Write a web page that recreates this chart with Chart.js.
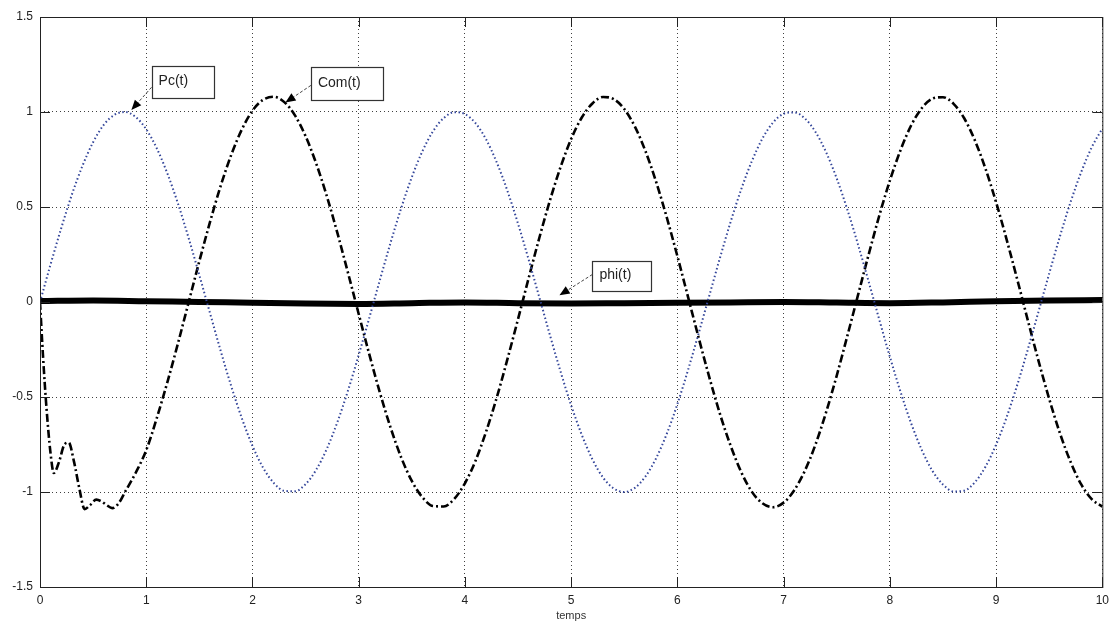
<!DOCTYPE html>
<html>
<head>
<meta charset="utf-8">
<script src="https://cdn.jsdelivr.net/npm/chart.js@4"></script>
<style>
  html, body { margin: 0; padding: 0; background: #fff; }
  #wrap { width: 1115px; height: 623px; }
</style>
</head>
<body>
<div id="wrap"><canvas id="grafico" width="1115" height="623"></canvas></div>
<script>
// Tiempo (s) para Pc(t)
const temps = [0,0.1,0.2,0.3,0.4,0.5,0.6,0.7,0.8,0.9,1,1.1,1.2,1.3,1.4,1.5,1.6,1.7,1.8,1.9,
  2,2.1,2.2,2.3,2.4,2.5,2.6,2.7,2.8,2.9,3,3.1,3.2,3.3,3.4,3.5,3.6,3.7,3.8,3.9,
  4,4.1,4.2,4.3,4.4,4.5,4.6,4.7,4.8,4.9,5,5.1,5.2,5.3,5.4,5.5,5.6,5.7,5.8,5.9,
  6,6.1,6.2,6.3,6.4,6.5,6.6,6.7,6.8,6.9,7,7.1,7.2,7.3,7.4,7.5,7.6,7.7,7.8,7.9,
  8,8.1,8.2,8.3,8.4,8.5,8.6,8.7,8.8,8.9,9,9.1,9.2,9.3,9.4,9.5,9.6,9.7,9.8,9.9,10];

// Pc(t) - courbe pointillée bleue
const pcValeurs = [0,0.199,0.389,0.565,0.717,0.841,0.932,0.985,1.000,0.974,
  0.909,0.808,0.675,0.516,0.335,0.141,-0.058,-0.256,-0.443,-0.612,
  -0.757,-0.872,-0.952,-0.994,-0.996,-0.959,-0.883,-0.773,-0.631,-0.465,
  -0.279,-0.083,0.117,0.312,0.494,0.657,0.794,0.899,0.968,0.999,
  0.989,0.941,0.855,0.734,0.585,0.412,0.223,0.025,-0.174,-0.366,
  -0.544,-0.699,-0.828,-0.924,-0.981,-1.000,-0.978,-0.918,-0.822,-0.694,
  -0.537,-0.358,-0.165,0.033,0.231,0.420,0.592,0.740,0.860,0.944,
  0.991,0.998,0.966,0.895,0.788,0.650,0.486,0.303,0.108,-0.092,
  -0.288,-0.472,-0.638,-0.778,-0.888,-0.961,-0.997,-0.993,-0.949,-0.867,
  -0.751,-0.605,-0.435,-0.247,-0.049,0.150,0.344,0.524,0.682,0.814,0.913];

// Com(t) - trait mixte noir (transitoire au début)
const comTemps = [0,0.03,0.06,0.1,0.13,0.18,0.23,0.27,0.32,0.37,0.42,0.47,0.53,0.58,0.63,0.68,0.74,0.8,0.9,1,
  1.1,1.2,1.3,1.4,1.5,1.6,1.7,1.8,1.9,
  2,2.1,2.2,2.3,2.4,2.5,2.6,2.7,2.8,2.9,3,3.1,3.2,3.3,3.4,3.5,3.6,3.7,3.8,3.9,
  4,4.1,4.2,4.3,4.4,4.5,4.6,4.7,4.8,4.9,5,5.1,5.2,5.3,5.4,5.5,5.6,5.7,5.8,5.9,
  6,6.1,6.2,6.3,6.4,6.5,6.6,6.7,6.8,6.9,7,7.1,7.2,7.3,7.4,7.5,7.6,7.7,7.8,7.9,
  8,8.1,8.2,8.3,8.4,8.5,8.6,8.7,8.8,8.9,9,9.1,9.2,9.3,9.4,9.5,9.6,9.7,9.8,9.9,10];
const comValeurs = [0,-0.3,-0.55,-0.8,-0.9,-0.84,-0.75,-0.74,-0.84,-0.98,-1.09,-1.07,-1.04,-1.05,-1.07,-1.085,-1.06,-1.0,-0.9,-0.78,
  -0.610,-0.420,-0.215,0,0.215,0.420,0.610,0.774,0.908,
  1.007,1.064,1.080,1.052,0.982,0.873,0.729,0.557,0.362,0.152,
  -0.063,-0.276,-0.478,-0.661,-0.818,-0.942,-1.028,-1.074,-1.076,-1.036,
  -0.954,-0.835,-0.681,-0.502,-0.301,-0.090,0.126,0.337,0.534,0.710,
  0.858,0.971,1.045,1.079,1.068,1.016,0.923,0.793,0.632,0.445,
  0.241,0.027,-0.188,-0.395,-0.588,-0.755,-0.894,-0.998,-1.059,-1.080,
  -1.056,-0.991,-0.888,-0.750,-0.580,-0.387,-0.178,0.036,0.249,0.454,
  0.639,0.799,0.929,1.020,1.070,1.078,1.043,0.967,0.851,0.702,
  0.525,0.327,0.117,-0.099,-0.311,-0.510,-0.689,-0.840,-0.959,-1.038,-1.077];

// phi(t) - trait plein épais
const phiTemps = [0,0.5,1,1.5,2,2.5,3,3.5,4,4.5,5,5.5,6,6.5,7,7.5,8,8.5,9,9.5,10];
const phiValeurs = [0.005,0.008,0.004,0,-0.004,-0.008,-0.01,-0.006,-0.002,-0.006,-0.008,-0.006,-0.004,-0.002,0,-0.003,-0.006,-0.002,0.004,0.008,0.01];

// Ticks
const xTicks = [0,1,2,3,4,5,6,7,8,9,10];
const yTicks = [-1.5,-1,-0.5,0,0.5,1,1.5];

// Étiquettes (boîte de texte + flèche)
const etiquettes = [
  { texte: 'Pc(t)', boite: [1.05, 1.24, 1.63, 1.07], depuis: [1.05, 1.13], vers: [0.86, 1.01] },
  { texte: 'Com(t)', boite: [2.55, 1.235, 3.23, 1.06], depuis: [2.55, 1.14], vers: [2.31, 1.05] },
  { texte: 'phi(t)', boite: [5.2, 0.215, 5.76, 0.055], depuis: [5.2, 0.145], vers: [4.89, 0.035] }
];

function points(xs, ys) {
  return xs.map((x, i) => ({ x: x, y: ys[i] }));
}

// Cadre + ticks vers l'intérieur + étiquettes
const cadrePlugin = {
  id: 'cadre',
  afterDatasetsDraw(chart) {
    const ctx = chart.ctx;
    const a = chart.chartArea;
    const sx = chart.scales.x, sy = chart.scales.y;
    ctx.save();
    ctx.strokeStyle = '#222';
    ctx.lineWidth = 1;
    ctx.setLineDash([]);
    ctx.strokeRect(a.left + 0.5, a.top + 0.5, a.right - a.left, a.bottom - a.top);
    ctx.beginPath();
    xTicks.forEach(v => {
      const px = Math.round(sx.getPixelForValue(v)) + 0.5;
      ctx.moveTo(px, a.bottom); ctx.lineTo(px, a.bottom - 10);
      ctx.moveTo(px, a.top); ctx.lineTo(px, a.top + 10);
    });
    yTicks.forEach(v => {
      const py = Math.round(sy.getPixelForValue(v)) + 0.5;
      ctx.moveTo(a.left, py); ctx.lineTo(a.left + 10, py);
      ctx.moveTo(a.right, py); ctx.lineTo(a.right - 10, py);
    });
    ctx.stroke();

    etiquettes.forEach(e => {
      const x1 = sx.getPixelForValue(e.boite[0]), y1 = sy.getPixelForValue(e.boite[1]);
      const x2 = sx.getPixelForValue(e.boite[2]), y2 = sy.getPixelForValue(e.boite[3]);
      ctx.fillStyle = '#fff';
      ctx.fillRect(x1, y1, x2 - x1, y2 - y1);
      ctx.strokeStyle = '#333';
      ctx.lineWidth = 1.2;
      ctx.strokeRect(Math.round(x1) + 0.5, Math.round(y1) + 0.5, Math.round(x2 - x1), Math.round(y2 - y1));
      ctx.fillStyle = '#222';
      ctx.font = '14px "Liberation Sans", Arial, sans-serif';
      ctx.textBaseline = 'middle';
      ctx.textAlign = 'left';
      ctx.fillText(e.texte, x1 + 7, (y1 + y2) / 2 - 1);

      // flèche
      const fx = sx.getPixelForValue(e.depuis[0]), fy = sy.getPixelForValue(e.depuis[1]);
      const tx = sx.getPixelForValue(e.vers[0]), ty = sy.getPixelForValue(e.vers[1]);
      const ang = Math.atan2(ty - fy, tx - fx);
      ctx.strokeStyle = '#444';
      ctx.lineWidth = 1;
      ctx.setLineDash([3, 2]);
      ctx.beginPath();
      ctx.moveTo(fx, fy);
      ctx.lineTo(tx - 8 * Math.cos(ang), ty - 8 * Math.sin(ang));
      ctx.stroke();
      ctx.setLineDash([]);
      ctx.fillStyle = '#000';
      ctx.beginPath();
      ctx.moveTo(tx, ty);
      ctx.lineTo(tx - 11 * Math.cos(ang - 0.4), ty - 11 * Math.sin(ang - 0.4));
      ctx.lineTo(tx - 11 * Math.cos(ang + 0.4), ty - 11 * Math.sin(ang + 0.4));
      ctx.closePath();
      ctx.fill();
    });
    ctx.restore();
  }
};

const ctx = document.getElementById('grafico').getContext('2d');
const miGrafico = new Chart(ctx, {
  type: 'line',
  data: {
    datasets: [
      {
        label: 'Pc(t)',
        data: points(temps, pcValeurs),
        borderColor: '#34469a',
        borderWidth: 2,
        borderDash: [1.5, 2.5],
        pointRadius: 0,
        fill: false,
        cubicInterpolationMode: 'monotone'
      },
      {
        label: 'Com(t)',
        data: points(comTemps, comValeurs),
        borderColor: '#000',
        borderWidth: 2.6,
        borderDash: [8, 3, 2, 3],
        pointRadius: 0,
        fill: false,
        cubicInterpolationMode: 'monotone'
      },
      {
        label: 'phi(t)',
        data: points(phiTemps, phiValeurs),
        borderColor: '#000',
        borderWidth: 6,
        pointRadius: 0,
        fill: false,
        cubicInterpolationMode: 'monotone'
      }
    ]
  },
  options: {
    responsive: false,
    animation: false,
    events: [],
    layout: { padding: { top: 17, right: 12, left: 0, bottom: 0 } },
    plugins: {
      legend: { display: false },
      tooltip: { enabled: false }
    },
    scales: {
      x: {
        type: 'linear',
        min: 0,
        max: 10,
        afterFit: s => { s.height = 36; },
        afterBuildTicks: s => { s.ticks = xTicks.map(v => ({ value: v })); },
        ticks: {
          padding: 6,
          color: '#222',
          font: { family: '"Liberation Sans", Arial, sans-serif', size: 12 },
          callback: v => String(v)
        },
        grid: { color: 'rgba(0,0,0,0.75)', lineWidth: 1, drawTicks: false },
        border: { display: false, dash: [1, 3] },
        title: {
          display: true,
          text: 'temps',
          color: '#333',
          padding: { top: 0, bottom: 0 },
          font: { family: '"Liberation Sans", Arial, sans-serif', size: 11 }
        }
      },
      y: {
        min: -1.5,
        max: 1.5,
        afterFit: s => { s.width = 40; },
        afterBuildTicks: s => { s.ticks = yTicks.map(v => ({ value: v })); },
        ticks: {
          padding: 7,
          color: '#222',
          font: { family: '"Liberation Sans", Arial, sans-serif', size: 12 },
          callback: v => String(v)
        },
        grid: { color: 'rgba(0,0,0,0.75)', lineWidth: 1, drawTicks: false },
        border: { display: false, dash: [1, 3] }
      }
    }
  },
  plugins: [cadrePlugin]
});
</script>
</body>
</html>
